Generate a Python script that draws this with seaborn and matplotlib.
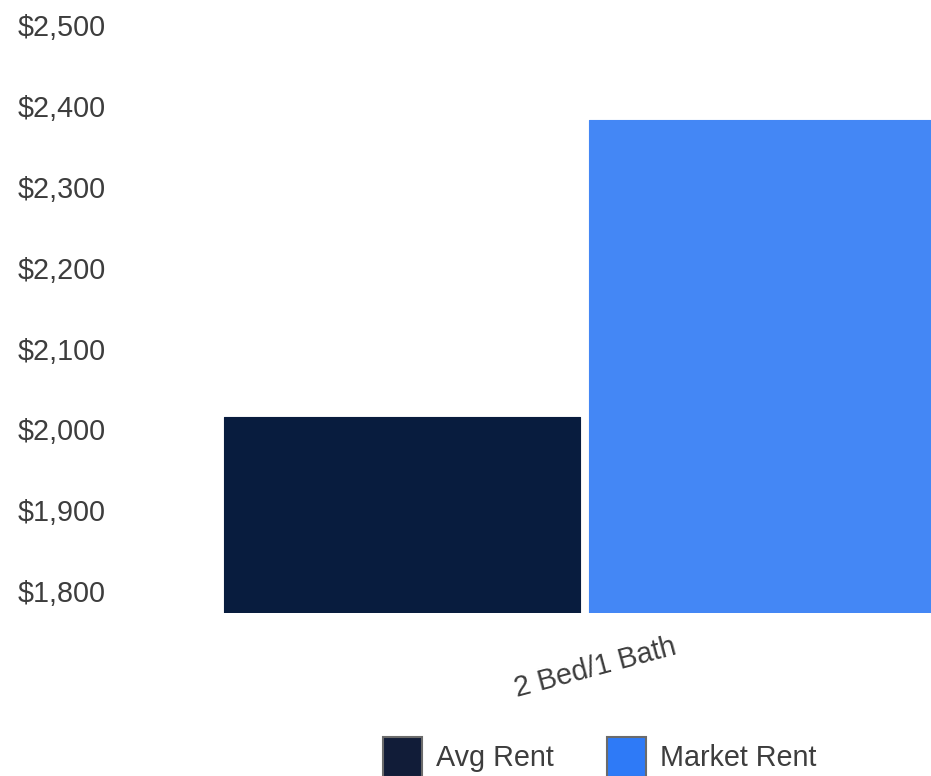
import matplotlib
matplotlib.use("Agg")
import matplotlib.pyplot as plt
import matplotlib.transforms as mtransforms
from matplotlib.patches import Patch
import seaborn as sns
import pandas as pd

# ---- data ----
categories = ["2 Bed/1 Bath"]
series_names = ["Avg Rent", "Market Rent"]
avg_rent = [2015]
market_rent = [2383]
y_ticks = [1800, 1900, 2000, 2100, 2200, 2300, 2400, 2500]

bar_colors = ["#081c3e", "#4487f5"]
legend_colors = ["#111c38", "#2e7af7"]

df = pd.DataFrame({
    "unit": categories * 2,
    "series": [series_names[0]] * len(categories) + [series_names[1]] * len(categories),
    "rent": avg_rent + market_rent,
})

sns.set_theme(style="white")
plt.rcParams["font.family"] = ["Liberation Sans", "DejaVu Sans"]

FS = 20.7
W, H = 931, 776
fig = plt.figure(figsize=(W / 100, H / 100), dpi=100)
left_px, right_px, top_px, bottom_px = 120, 931, 25, 613
ax = fig.add_axes([left_px / W, 1 - bottom_px / H,
                   (right_px - left_px) / W, (bottom_px - top_px) / H])

sns.barplot(data=df, x="unit", y="rent", hue="series", hue_order=series_names,
            palette=bar_colors, width=0.8, gap=0.022, ax=ax, legend=False,
            saturation=1)

for p, c in zip(ax.patches, bar_colors):
    p.set_edgecolor(c)
    p.set_linewidth(0.8)
    p.set_joinstyle("round")

# x scale so category centre sits at ~584.5 px, slot width 365 px
px_per_unit = 912.5
cx = 584.5
ax.set_xlim((left_px - cx) / px_per_unit, (right_px - cx) / px_per_unit)
ax.set_ylim(1773, 2500)

ax.set_yticks(y_ticks)
ax.set_yticklabels([f"${v:,.0f}" for v in y_ticks])
ax.tick_params(axis="y", length=0, pad=10, labelsize=FS, labelcolor="#3d3d3d")
ax.tick_params(axis="x", length=0, pad=39.5, labelsize=FS, labelcolor="#3d3d3d")
ax.set_xlabel("")
ax.set_ylabel("")
for lab in ax.get_xticklabels():
    lab.set_rotation(15)
    lab.set_ha("center")
    lab.set_va("center")
    lab.set_rotation_mode("anchor")
    lab.set_transform(lab.get_transform() +
                      mtransforms.ScaledTranslation(11 / 100, 0, fig.dpi_scale_trans))
for s in ax.spines.values():
    s.set_visible(False)
ax.grid(False)

handles = [Patch(facecolor=c, edgecolor="#6b6b6b", linewidth=1.5, label=n)
           for c, n in zip(legend_colors, series_names)]
fig.legend(handles=handles, loc="center", bbox_to_anchor=(600 / W, 1 - 757 / H),
           ncol=2, frameon=False, fontsize=FS, labelcolor="#3d3d3d",
           handlelength=1.34, handleheight=1.73, handletextpad=0.5,
           columnspacing=1.85, borderaxespad=0, borderpad=0)

fig.savefig("out.png", dpi=100, facecolor="white")
